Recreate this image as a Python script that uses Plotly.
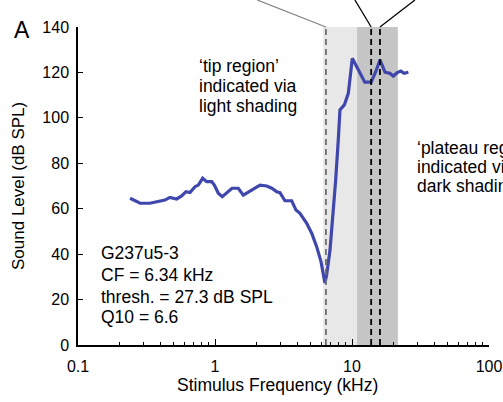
import math
import plotly.graph_objects as go

# ---- data ----
freq_khz = [0.240, 0.284, 0.335, 0.385, 0.431, 0.469, 0.525, 0.571, 0.614, 0.657,
            0.714, 0.755, 0.813, 0.869, 0.946, 0.989, 1.057, 1.130, 1.217, 1.331,
            1.40, 1.479, 1.609, 1.853, 2.13, 2.385, 2.594, 2.82, 2.98, 3.24,
            3.63, 3.90, 4.17, 4.67, 5.08, 5.52, 5.94, 6.34, 6.53, 6.91,
            7.30, 7.60, 7.94, 8.17, 8.79, 9.40, 10.05, 11.1, 12.4, 13.8,
            14.9, 16.0, 17.4, 18.9, 20.0, 21.4, 22.7, 24.0, 25.8]
level_db = [64.6, 62.4, 62.4, 63.1, 63.8, 65.0, 64.3, 65.6, 67.5, 67.1,
            69.7, 70.4, 73.4, 71.9, 71.9, 70.4, 66.8, 65.3, 66.8, 69.0,
            69.0, 69.0, 66.0, 68.2, 70.4, 70.0, 69.0, 67.5, 67.1, 63.5,
            63.5, 59.4, 58.0, 53.6, 49.2, 43.3, 36.7, 27.3, 30.8, 41.8,
            58.0, 72.6, 90.3, 103.5, 105.7, 110.8, 126.2, 121.1, 115.7, 115.7,
            120.3, 125.5, 120.1, 119.6, 118.4, 119.9, 120.6, 119.6, 120.1]

cf_line = 6.45          # dashed grey line at CF
tip_region = [6.15, 21.6]
plateau_region = [10.9, 21.6]
plateau_lines = [13.8, 16.0]
callout_tops = {"grey": 2.03, "black": [10.5, 28.8]}

x_ticks = [0.1, 1, 10, 100]
x_ticklabels = ["0.1", "1", "10", "100"]
x_minor = [m * d for d in (0.1, 1, 10) for m in range(2, 10)]
y_ticks = [0, 20, 40, 60, 80, 100, 120, 140]

tip_lines = ["‘tip region’", "indicated via", "light shading"]
plateau_text = ["‘plateau region’", "indicated via", "dark shading"]
info_lines = ["G237u5-3", "CF = 6.34 kHz", "thresh. = 27.3 dB SPL", "Q10 = 6.6"]

FONT = "Liberation Sans, Arial, Helvetica, sans-serif"
BLUE = "rgb(63,71,173)"

fig = go.Figure()
fig.add_trace(go.Scatter(x=freq_khz, y=level_db, mode="lines",
                         line=dict(color=BLUE, width=3.2), showlegend=False,
                         cliponaxis=False))

# shaded regions
fig.add_shape(type="rect", xref="x", yref="y", x0=tip_region[0], x1=tip_region[1],
              y0=0, y1=140, fillcolor="rgb(232,232,232)", line_width=0, layer="below")
fig.add_shape(type="rect", xref="x", yref="y", x0=plateau_region[0], x1=plateau_region[1],
              y0=0, y1=140, fillcolor="rgb(197,197,197)", line_width=0, layer="below")

# dashed lines
fig.add_shape(type="line", xref="x", yref="y", x0=cf_line, x1=cf_line, y0=0, y1=140,
              line=dict(color="rgb(110,110,110)", width=1.8, dash="6px,4px"))
for xv in plateau_lines:
    fig.add_shape(type="line", xref="x", yref="y", x0=xv, x1=xv, y0=0, y1=140,
                  line=dict(color="black", width=1.8, dash="6px,4px"))

# callout lines going off the top
top_paper = 1 + 27 / 318
fig.add_shape(type="line", xref="x", yref="paper", x0=cf_line, y0=1,
              x1=callout_tops["grey"], y1=top_paper,
              line=dict(color="rgb(130,130,130)", width=1.3))
for xb, xt in zip(plateau_lines, callout_tops["black"]):
    fig.add_shape(type="line", xref="x", yref="paper", x0=xb, y0=1,
                  x1=xt, y1=top_paper, line=dict(color="black", width=1.3))

def px_x(px):
    return (px - 78) / 411

def px_y(py):
    return (345 - py) / 318

anns = [
    dict(text="A", x=px_x(22), y=px_y(30), xanchor="center", yanchor="middle",
         font=dict(size=23)),
    dict(text="Sound Level (dB SPL)", x=px_x(18), y=px_y(186), textangle=-90,
         xanchor="center", yanchor="middle", font=dict(size=17)),
    dict(text="Stimulus Frequency (kHz)", x=px_x(277), y=px_y(385),
         xanchor="center", yanchor="middle", font=dict(size=17.5)),
]
for txt, yc in zip(tip_lines, [66, 86, 106]):
    anns.append(dict(text=txt, x=px_x(197), y=px_y(yc), xanchor="left",
                     yanchor="middle", font=dict(size=17.5)))
for txt, yc in zip(plateau_text, [148, 167, 186]):
    anns.append(dict(text=txt, x=px_x(415), y=px_y(yc), xanchor="left",
                     yanchor="middle", font=dict(size=17.5)))
for txt, yc in zip(info_lines, [253, 275, 297, 317]):
    anns.append(dict(text=txt, x=px_x(99), y=px_y(yc), xanchor="left",
                     yanchor="middle", font=dict(size=17.5)))

for a in anns:
    a.update(xref="paper", yref="paper", showarrow=False)
    a["font"].update(family=FONT, color="black")
    fig.add_annotation(**a)

fig.update_layout(
    width=503, height=402,
    margin=dict(l=78, r=14, t=27, b=57, autoexpand=False),
    plot_bgcolor="white", paper_bgcolor="white",
    font=dict(family=FONT, size=16, color="black"),
)
fig.update_xaxes(type="log", range=[-1, 2], tickvals=x_ticks, ticktext=x_ticklabels,
                 ticks="inside", ticklen=6, tickwidth=1.2, tickcolor="black",
                 showline=True, linecolor="black", linewidth=1.5, showgrid=False,
                 zeroline=False, ticklabelstandoff=6, automargin=False,
                 minor=dict(tickvals=x_minor, ticks="inside", ticklen=3,
                            tickcolor="black", tickwidth=1, showgrid=False))
fig.update_yaxes(range=[0, 140], tickvals=y_ticks, ticks="inside", ticklen=5,
                 tickwidth=1.2, tickcolor="black", showline=True, linecolor="black",
                 linewidth=1.5, showgrid=False, zeroline=False, ticklabelstandoff=4,
                 automargin=False)

fig.write_html("out.html")
